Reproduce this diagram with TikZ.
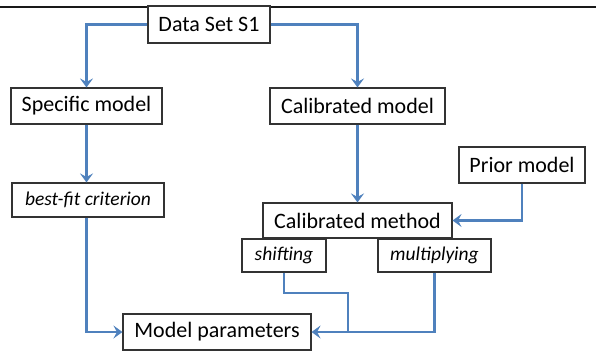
\documentclass[tikz,border=0pt]{standalone}
\usepackage{fontspec}
\setmainfont{Carlito}
\usetikzlibrary{arrows.meta}
\definecolor{flowblue}{HTML}{4F81BD}
\begin{document}
\begin{tikzpicture}[x=1pt,y=-1pt,
  box/.style={draw=black!80,line width=1.1pt,fill=white,inner sep=0pt,
    font=\fontsize{22}{26}\selectfont},
  ibox/.style={box,font=\fontsize{19.5}{23}\selectfont\itshape},
  flow/.style={draw=flowblue,line width=2.6pt,
    -{Stealth[length=9pt,width=13pt,inset=3.5pt]}},
  link/.style={draw=flowblue,line width=2.6pt}]
\useasboundingbox (0,0) rectangle (596,357);
% rule across the top
\draw[black!90,line width=1.3pt] (0,7) -- (596,7);
% boxes
\node[box,minimum width=122pt,minimum height=37pt] (data) at (209,24.5) {Data Set S1};
\node[box,minimum width=151pt,minimum height=36pt] (spec) at (86.5,106) {Specific model};
\node[box,minimum width=175pt,minimum height=36pt] (calib) at (357.5,106) {Calibrated model};
\node[box,minimum width=126pt,minimum height=36pt] (prior) at (522,165) {Prior model};
\node[ibox,minimum width=152pt,minimum height=34pt] (best) at (88,200) {best-fit criterion};
\node[box,minimum width=189pt,minimum height=35pt] (meth) at (357.5,220.5) {Calibrated method};
\node[ibox,minimum width=84pt,minimum height=33pt] (shift) at (284,255.5) {shifting};
\node[ibox,minimum width=113pt,minimum height=33pt] (mult) at (434.5,255.5) {multiplying};
\node[box,minimum width=188pt,minimum height=36pt] (param) at (217,332) {Model parameters};
% connectors
\draw[flow] (data.west) -| (spec.north);
\draw[flow] (data.east) -| (calib.north);
\draw[flow] (spec.south) -- (best.north -| spec.south);
\draw[flow] (calib.south) -- (meth.north -| calib.south);
\draw[flow] (prior.south) |- (meth.east);
\coordinate (join) at (348,332);
\draw[flow] (best.south -| spec.south) |- (param.west);
\draw[link] (shift.south) |- (348,293) -- (join);
\draw[flow] (mult.south) |- (param.east);
\end{tikzpicture}
\end{document}
